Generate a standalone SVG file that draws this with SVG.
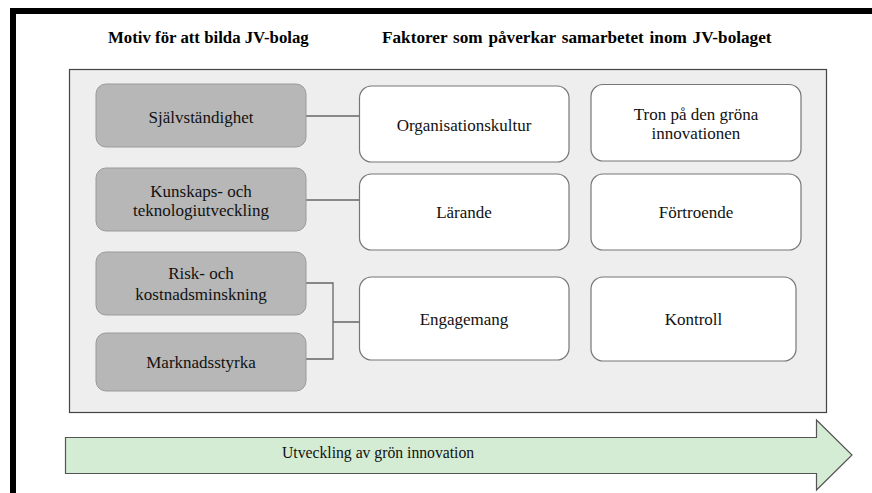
<svg xmlns="http://www.w3.org/2000/svg" width="872" height="493" viewBox="0 0 872 493">
<style>
.title{font-family:'Liberation Serif','Times New Roman',serif;font-weight:bold;font-size:16.8px;fill:#000}
.lbl{font-family:'Liberation Serif','Times New Roman',serif;font-size:17px;fill:#111;text-anchor:middle}
.motive{fill:#b7b7b7;stroke:#9a9a9a;stroke-width:1}
.factor{fill:#ffffff;stroke:#777;stroke-width:1.2}
.conn{fill:none;stroke:#666;stroke-width:1.3}
</style>
<rect x="0" y="0" width="872" height="493" fill="#ffffff"/>
<path d="M10 8H872V14H16V493H10Z" fill="#000"/>
<text class="title" x="108" y="43">Motiv för att bilda JV-bolag</text>
<text class="title" x="382" y="43" style="font-size:17.2px;word-spacing:1.5px">Faktorer som påverkar samarbetet inom JV-bolaget</text>
<rect x="69.5" y="69.5" width="757" height="343" fill="#eeeeee" stroke="#444" stroke-width="1.2"/>
<g id="connectors">
<path class="conn" d="M306 116H360"/>
<path class="conn" d="M306 200H360"/>
<path class="conn" d="M306 283H333V359H306M333 322H360"/>
</g>
<g id="n1"><rect class="motive" x="96" y="84" width="210" height="63" rx="10"/><text class="lbl" x="201" y="123">Självständighet</text></g>
<g id="n2"><rect class="motive" x="96" y="168" width="210" height="63" rx="10"/><text class="lbl" x="201" y="197">Kunskaps- och</text><text class="lbl" x="201" y="216">teknologiutveckling</text></g>
<g id="n3"><rect class="motive" x="96" y="252" width="210" height="63" rx="10"/><text class="lbl" x="201" y="279">Risk- och</text><text class="lbl" x="201" y="300">kostnadsminskning</text></g>
<g id="n4"><rect class="motive" x="96" y="333" width="210" height="58" rx="10"/><text class="lbl" x="201" y="368">Marknadsstyrka</text></g>
<g id="n5"><rect class="factor" x="359.5" y="86" width="209.5" height="76" rx="12"/><text class="lbl" x="464" y="131">Organisationskultur</text></g>
<g id="n6"><rect class="factor" x="359.5" y="174" width="209.5" height="76" rx="12"/><text class="lbl" x="464" y="218">Lärande</text></g>
<g id="n7"><rect class="factor" x="359.5" y="277" width="209.5" height="83" rx="12"/><text class="lbl" x="464" y="325">Engagemang</text></g>
<g id="n8"><rect class="factor" x="591" y="84.5" width="210" height="76.5" rx="12"/><text class="lbl" x="696" y="120">Tron på den gröna</text><text class="lbl" x="696" y="139">innovationen</text></g>
<g id="n9"><rect class="factor" x="591" y="174" width="210" height="76" rx="12"/><text class="lbl" x="696" y="218">Förtroende</text></g>
<g id="n10"><rect class="factor" x="591" y="277" width="205" height="84" rx="12"/><text class="lbl" x="693.5" y="325">Kontroll</text></g>
<g id="arrow">
<path d="M65.5 437.5H816.5V420L852 455L816.5 490V473.5H65.5Z" fill="#d4ecd4" stroke="#555" stroke-width="1.2"/>
<text x="282" y="458" class="lbl" style="text-anchor:start;font-size:15.7px">Utveckling av grön innovation</text>
</g>
</svg>
